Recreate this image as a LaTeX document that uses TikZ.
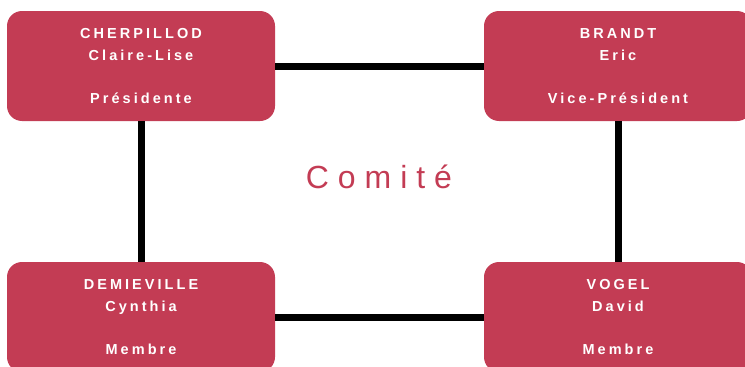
\documentclass[tikz,border=0pt]{standalone}
\usepackage{fontspec}
\usetikzlibrary{positioning}
\newfontfamily\membrefont[LetterSpace=21]{Liberation Sans}
\newfontfamily\titrefont[LetterSpace=28]{Liberation Sans}
\definecolor{comitered}{RGB}{195,60,84}
\tikzstyle{membrestyle}=[shape=rectangle,rounded corners=15pt,fill=comitered,text=white,minimum width=268pt,minimum height=110pt,align=center,font=\membrefont\bfseries\fontsize{14.5}{21.5}\selectfont]
\tikzstyle{lienstyle}=[line width=7pt,black]
\newcommand{\agmembre}[5]{ \node [style=membrestyle] (#1) at (#2) {#3\\#4\\\\#5}; }
\newcommand{\aglien}[2]{ \draw [style=lienstyle] (#1) -- (#2); }

\begin{document}
\begin{tikzpicture}[x=1pt,y=-1pt]
\useasboundingbox (0,0) rectangle (745,367);
\clip (0,0) rectangle (745,367);

\agmembre{cherpillod}{141,66}{CHERPILLOD}{Claire-Lise}{Présidente} %
\agmembre{brandt}{618,66}{BRANDT}{Eric}{Vice-Président} %
\agmembre{demieville}{141,317}{DEMIEVILLE}{Cynthia}{Membre} %
\agmembre{vogel}{618,317}{VOGEL}{David}{Membre} %
\aglien{cherpillod}{brandt} %
\aglien{cherpillod}{demieville} %
\aglien{brandt}{vogel} %
\aglien{demieville}{vogel} %
\node [anchor=base,text=comitered,font=\titrefont\fontsize{32}{38}\selectfont] (comite) at (379,188) {Comité};
\end{tikzpicture}
\end{document}
